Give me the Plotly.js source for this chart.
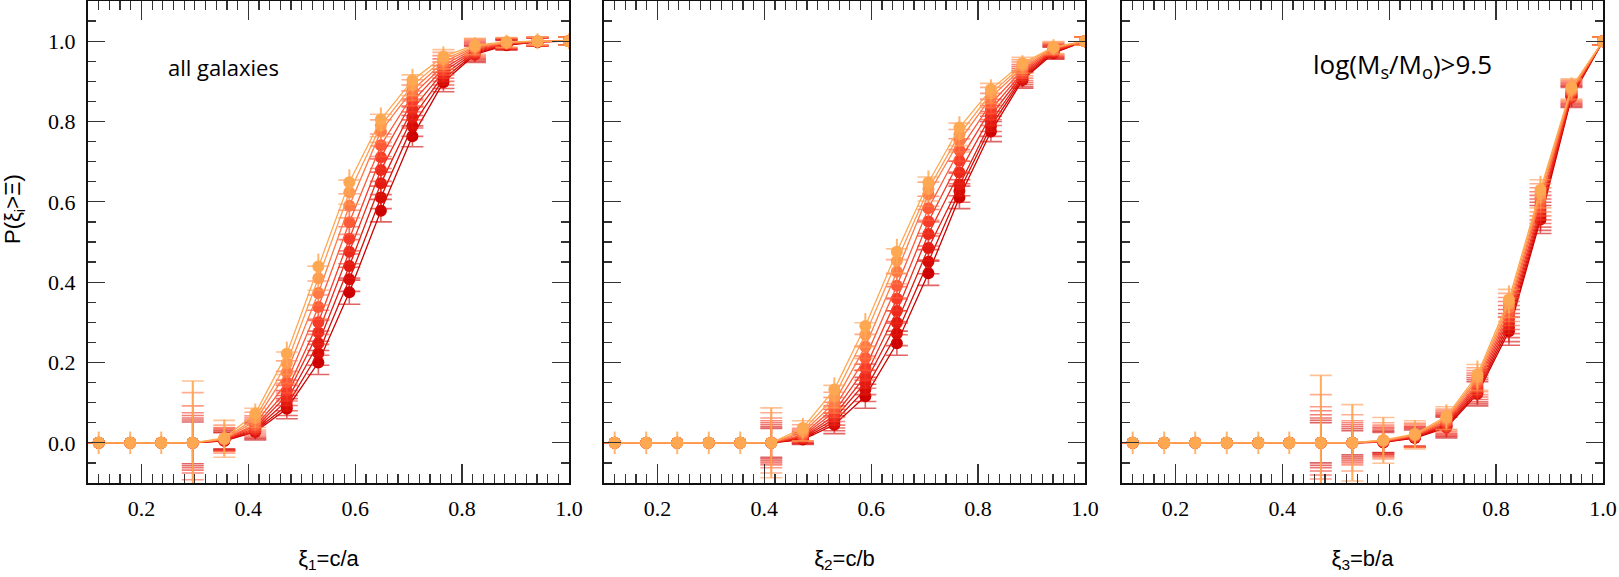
<!DOCTYPE html>
<html>
<head>
<meta charset="utf-8">
<script src="https://cdn.plot.ly/plotly-3.0.1.min.js"></script>
<style>
  html, body { margin: 0; padding: 0; background: #ffffff; }
  #chart { width: 1619px; height: 577px; }
</style>
</head>
<body>
<div id="chart"></div>
<script>
// ---- bin centres (shared by all panels) ----
const xBins = [0.12, 0.179, 0.237, 0.296, 0.355, 0.413, 0.472, 0.531, 0.589, 0.648, 0.707, 0.765, 0.824, 0.883, 0.941, 1.0];

// ---- series colours, lightest (s0) to darkest (s8) ----
const seriesColors = ['#ffa852', '#ff9a50', '#ff7a46', '#ff5a38', '#f63c29', '#ec2a1c', '#e21a11', '#d70c07', '#cc0000'];

// ---- panel 1: xi1 = c/a ----
const caValues = [
  [0, 0, 0, 0, 0.012, 0.073, 0.222, 0.439, 0.649, 0.805, 0.903, 0.962, 0.990, 0.998, 1.0, 1.0],
  [0, 0, 0, 0, 0.010, 0.062, 0.198, 0.410, 0.624, 0.790, 0.890, 0.955, 0.987, 0.997, 1.0, 1.0],
  [0, 0, 0, 0, 0.009, 0.054, 0.176, 0.373, 0.590, 0.776, 0.878, 0.948, 0.985, 0.996, 1.0, 1.0],
  [0, 0, 0, 0, 0.008, 0.047, 0.151, 0.338, 0.549, 0.741, 0.865, 0.940, 0.982, 0.995, 0.999, 1.0],
  [0, 0, 0, 0, 0.008, 0.042, 0.130, 0.300, 0.508, 0.711, 0.850, 0.932, 0.979, 0.994, 0.999, 1.0],
  [0, 0, 0, 0, 0.007, 0.037, 0.118, 0.275, 0.476, 0.679, 0.830, 0.924, 0.976, 0.993, 0.999, 1.0],
  [0, 0, 0, 0, 0.006, 0.033, 0.105, 0.248, 0.440, 0.646, 0.810, 0.915, 0.973, 0.992, 0.999, 1.0],
  [0, 0, 0, 0, 0.005, 0.030, 0.093, 0.223, 0.407, 0.611, 0.789, 0.906, 0.970, 0.991, 0.998, 1.0],
  [0, 0, 0, 0, 0.005, 0.027, 0.085, 0.200, 0.375, 0.578, 0.763, 0.898, 0.967, 0.990, 0.998, 1.0]
];
const caErrors = [
  [0.028, 0.028, 0.028, 0.154, 0.046, 0.025, 0.030, 0.032, 0.032, 0.030, 0.028, 0.025, 0.020, 0.018, 0.020, 0.020],
  [0, 0, 0, 0.154, 0.046, 0.024, 0.028, 0.030, 0.030, 0.028, 0.026, 0.024, 0.020, 0.012, 0.010, 0.010],
  [0, 0, 0, 0.125, 0.035, 0.022, 0.028, 0.030, 0.030, 0.028, 0.026, 0.024, 0.020, 0.012, 0.010, 0.010],
  [0, 0, 0, 0.092, 0.030, 0.020, 0.027, 0.030, 0.030, 0.028, 0.026, 0.024, 0.020, 0.012, 0.010, 0.010],
  [0, 0, 0, 0.075, 0.028, 0.020, 0.026, 0.030, 0.030, 0.028, 0.026, 0.024, 0.020, 0.012, 0.010, 0.010],
  [0, 0, 0, 0.068, 0.026, 0.020, 0.025, 0.030, 0.030, 0.028, 0.026, 0.024, 0.020, 0.012, 0.010, 0.010],
  [0, 0, 0, 0.062, 0.024, 0.020, 0.025, 0.030, 0.030, 0.028, 0.026, 0.024, 0.020, 0.012, 0.010, 0.010],
  [0, 0, 0, 0.057, 0.022, 0.020, 0.025, 0.030, 0.030, 0.028, 0.026, 0.024, 0.020, 0.012, 0.010, 0.010],
  [0, 0, 0, 0.052, 0.020, 0.020, 0.025, 0.030, 0.030, 0.028, 0.026, 0.024, 0.020, 0.012, 0.010, 0.010]
];

// ---- panel 2: xi2 = c/b ----
const cbValues = [
  [0, 0, 0, 0, 0, 0, 0.037, 0.133, 0.291, 0.476, 0.648, 0.785, 0.880, 0.945, 0.985, 1.0],
  [0, 0, 0, 0, 0, 0, 0.030, 0.115, 0.269, 0.453, 0.632, 0.768, 0.870, 0.940, 0.984, 1.0],
  [0, 0, 0, 0, 0, 0, 0.025, 0.100, 0.240, 0.426, 0.619, 0.752, 0.860, 0.934, 0.982, 1.0],
  [0, 0, 0, 0, 0, 0, 0.020, 0.088, 0.211, 0.391, 0.584, 0.729, 0.845, 0.928, 0.980, 1.0],
  [0, 0, 0, 0, 0, 0, 0.017, 0.077, 0.186, 0.359, 0.551, 0.702, 0.830, 0.922, 0.978, 1.0],
  [0, 0, 0, 0, 0, 0, 0.014, 0.068, 0.166, 0.328, 0.520, 0.673, 0.815, 0.917, 0.976, 1.0],
  [0, 0, 0, 0, 0, 0, 0.012, 0.060, 0.150, 0.299, 0.485, 0.643, 0.800, 0.912, 0.974, 1.0],
  [0, 0, 0, 0, 0, 0, 0.010, 0.052, 0.133, 0.272, 0.451, 0.627, 0.788, 0.907, 0.972, 1.0],
  [0, 0, 0, 0, 0, 0, 0.008, 0.045, 0.116, 0.248, 0.422, 0.611, 0.775, 0.903, 0.970, 1.0]
];
const cbErrors = [
  [0.028, 0.028, 0.028, 0.028, 0.028, 0.087, 0.025, 0.030, 0.032, 0.032, 0.030, 0.028, 0.025, 0.020, 0.020, 0.015],
  [0, 0, 0, 0, 0, 0.087, 0.025, 0.028, 0.030, 0.030, 0.030, 0.028, 0.025, 0.020, 0.015, 0.010],
  [0, 0, 0, 0, 0, 0.075, 0.020, 0.026, 0.030, 0.030, 0.030, 0.028, 0.025, 0.020, 0.015, 0.010],
  [0, 0, 0, 0, 0, 0.062, 0.016, 0.025, 0.030, 0.030, 0.030, 0.028, 0.025, 0.020, 0.015, 0.010],
  [0, 0, 0, 0, 0, 0.055, 0.015, 0.024, 0.030, 0.030, 0.030, 0.028, 0.025, 0.020, 0.015, 0.010],
  [0, 0, 0, 0, 0, 0.050, 0.014, 0.024, 0.030, 0.030, 0.030, 0.028, 0.025, 0.020, 0.015, 0.010],
  [0, 0, 0, 0, 0, 0.045, 0.013, 0.023, 0.030, 0.030, 0.030, 0.028, 0.025, 0.020, 0.015, 0.010],
  [0, 0, 0, 0, 0, 0.040, 0.012, 0.022, 0.030, 0.030, 0.030, 0.028, 0.025, 0.020, 0.015, 0.010],
  [0, 0, 0, 0, 0, 0.036, 0.012, 0.022, 0.030, 0.030, 0.030, 0.028, 0.025, 0.020, 0.015, 0.010]
];

// ---- panel 3: xi3 = b/a ----
const baValues = [
  [0, 0, 0, 0, 0, 0, 0, 0, 0.007, 0.022, 0.066, 0.170, 0.357, 0.630, 0.885, 1.0],
  [0, 0, 0, 0, 0, 0, 0, 0, 0.006, 0.020, 0.062, 0.163, 0.347, 0.620, 0.881, 1.0],
  [0, 0, 0, 0, 0, 0, 0, 0, 0.005, 0.019, 0.058, 0.157, 0.337, 0.610, 0.878, 1.0],
  [0, 0, 0, 0, 0, 0, 0, 0, 0.004, 0.018, 0.054, 0.150, 0.327, 0.600, 0.875, 1.0],
  [0, 0, 0, 0, 0, 0, 0, 0, 0.003, 0.016, 0.050, 0.144, 0.317, 0.590, 0.872, 1.0],
  [0, 0, 0, 0, 0, 0, 0, 0, 0.003, 0.015, 0.047, 0.138, 0.307, 0.581, 0.869, 1.0],
  [0, 0, 0, 0, 0, 0, 0, 0, 0.002, 0.014, 0.044, 0.132, 0.297, 0.572, 0.866, 1.0],
  [0, 0, 0, 0, 0, 0, 0, 0, 0.002, 0.013, 0.041, 0.127, 0.287, 0.564, 0.863, 1.0],
  [0, 0, 0, 0, 0, 0, 0, 0, 0.001, 0.012, 0.038, 0.122, 0.278, 0.556, 0.860, 1.0]
];
const baErrors = [
  [0.028, 0.028, 0.028, 0.028, 0.028, 0.028, 0.168, 0.095, 0.057, 0.035, 0.030, 0.035, 0.035, 0.035, 0.025, 0.015],
  [0, 0, 0, 0, 0, 0, 0.168, 0.095, 0.057, 0.035, 0.028, 0.032, 0.035, 0.035, 0.025, 0.010],
  [0, 0, 0, 0, 0, 0, 0.120, 0.070, 0.045, 0.030, 0.026, 0.030, 0.035, 0.035, 0.025, 0.010],
  [0, 0, 0, 0, 0, 0, 0.090, 0.055, 0.040, 0.028, 0.026, 0.030, 0.035, 0.035, 0.025, 0.010],
  [0, 0, 0, 0, 0, 0, 0.080, 0.050, 0.036, 0.026, 0.026, 0.030, 0.035, 0.035, 0.025, 0.010],
  [0, 0, 0, 0, 0, 0, 0.070, 0.045, 0.033, 0.025, 0.026, 0.030, 0.035, 0.035, 0.025, 0.010],
  [0, 0, 0, 0, 0, 0, 0.062, 0.040, 0.030, 0.024, 0.026, 0.030, 0.035, 0.035, 0.025, 0.010],
  [0, 0, 0, 0, 0, 0, 0.056, 0.035, 0.027, 0.022, 0.026, 0.030, 0.035, 0.035, 0.025, 0.010],
  [0, 0, 0, 0, 0, 0, 0.050, 0.030, 0.025, 0.020, 0.026, 0.030, 0.035, 0.035, 0.025, 0.010]
];

// ---- ticks and texts ----
const xLabelVals = [0.2, 0.4, 0.6, 0.8, 1.0];
const xLabelText = ['0.2', '0.4', '0.6', '0.8', '1.0'];
const xOddTickVals = [0.1, 0.3, 0.5, 0.7, 0.9];
const yLabelVals = [0.0, 0.2, 0.4, 0.6, 0.8, 1.0];
const yLabelText = ['0.0', '0.2', '0.4', '0.6', '0.8', '1.0'];
const yOddTickVals = [-0.1, 0.1, 0.3, 0.5, 0.7, 0.9, 1.1];

const xTitles = ['ξ<sub>1</sub>=c/a', 'ξ<sub>2</sub>=c/b', 'ξ<sub>3</sub>=b/a'];
const yTitle = 'P(ξ<sub>i</sub>&gt;Ξ)';
const panelLabels = ['all galaxies', '', 'log(M<sub>s</sub>/M<sub>o</sub>)&gt;9.5'];

// ---- build ----
function hexToRgba(hex, a) {
  const n = parseInt(hex.slice(1), 16);
  return 'rgba(' + ((n >> 16) & 255) + ',' + ((n >> 8) & 255) + ',' + (n & 255) + ',' + a + ')';
}

const panels = [
  { vals: caValues, errs: caErrors },
  { vals: cbValues, errs: cbErrors },
  { vals: baValues, errs: baErrors }
];

const traces = [];
panels.forEach((p, pi) => {
  const suffix = pi === 0 ? '' : String(pi + 1);
  for (let s = seriesColors.length - 1; s >= 0; s--) {
    traces.push({
      type: 'scatter',
      mode: 'lines+markers',
      x: xBins,
      y: p.vals[s],
      xaxis: 'x' + suffix,
      yaxis: 'y' + suffix,
      showlegend: false,
      hoverinfo: 'x+y',
      line: { color: seriesColors[s], width: 1.3 },
      marker: { color: seriesColors[s], size: 12, line: { width: 0 } },
      error_y: {
        type: 'data',
        array: p.errs[s],
        visible: true,
        color: s === 0 ? hexToRgba(seriesColors[s], 0.85) : hexToRgba(seriesColors[s], 0.6),
        thickness: s === 0 ? 2 : 1.6,
        width: s === 0 ? 0 : 11
      }
    });
  }
});

const W = 1619, H = 577;
const panelPx = [[88, 569], [604, 1085], [1122, 1603]];
const plotTop = 1, plotBottom = 483;

const tickFont = { family: '"Liberation Serif", "Times New Roman", serif', size: 22, color: '#000' };
const titleFont = { family: '"Liberation Sans", Arial, sans-serif', size: 22, color: '#000' };
const tickStyle = { ticks: 'inside', tickwidth: 1.3, tickcolor: '#333', showgrid: false, zeroline: false };

const layout = {
  width: W,
  height: H,
  margin: { l: 0, r: 0, t: 0, b: 0 },
  paper_bgcolor: '#ffffff',
  plot_bgcolor: '#ffffff',
  showlegend: false,
  annotations: [{
    xref: 'paper', yref: 'paper',
    x: 14 / W, y: (H - 209) / H,
    xanchor: 'center', yanchor: 'middle',
    textangle: -90,
    text: yTitle,
    showarrow: false,
    font: titleFont
  }]
};

panelPx.forEach((px, pi) => {
  const suffix = pi === 0 ? '' : String(pi + 1);
  const oSuffix = String(pi + 4);
  const xDomain = [px[0] / W, px[1] / W];
  const yDomain = [(H - plotBottom) / H, (H - plotTop) / H];
  layout['xaxis' + suffix] = Object.assign({}, tickStyle, {
    domain: xDomain,
    anchor: 'y' + suffix,
    range: [0.1, 1.0],
    showline: true,
    linecolor: '#111',
    linewidth: 2,
    mirror: 'allticks',
    ticklen: 19,
    tickmode: 'array',
    tickvals: xLabelVals,
    ticktext: xLabelText,
    tickfont: tickFont,
    ticklabelstandoff: 5,
    minor: { tickmode: 'linear', tick0: 0, dtick: 0.02, ticks: 'inside', ticklen: 9, tickwidth: 1.2, tickcolor: '#333', showgrid: false },
    title: { text: xTitles[pi], font: titleFont, standoff: 30 }
  });
  layout['yaxis' + suffix] = Object.assign({}, tickStyle, {
    domain: yDomain,
    anchor: 'x' + suffix,
    range: [-0.1, 1.1],
    showline: true,
    linecolor: '#111',
    linewidth: 2,
    mirror: 'allticks',
    ticklen: 17,
    tickmode: 'array',
    tickvals: yLabelVals,
    ticktext: yLabelText,
    tickfont: tickFont,
    showticklabels: pi === 0,
    ticklabelstandoff: 6,
    minor: { tickmode: 'linear', tick0: 0, dtick: 0.05, ticks: 'inside', ticklen: 8, tickwidth: 1.2, tickcolor: '#333', showgrid: false }
  });
  // overlay axes carrying the unlabelled long ticks
  layout['xaxis' + oSuffix] = Object.assign({}, tickStyle, {
    overlaying: 'x' + suffix,
    anchor: 'y' + suffix,
    range: [0.1, 1.0],
    showline: false,
    mirror: 'allticks',
    ticklen: 19,
    tickmode: 'array',
    tickvals: xOddTickVals,
    showticklabels: false
  });
  layout['yaxis' + oSuffix] = Object.assign({}, tickStyle, {
    overlaying: 'y' + suffix,
    anchor: 'x' + suffix,
    range: [-0.1, 1.1],
    showline: false,
    mirror: 'allticks',
    ticklen: 17,
    tickmode: 'array',
    tickvals: yOddTickVals,
    showticklabels: false
  });
  if (panelLabels[pi]) {
    layout.annotations.push({
      xref: 'x' + suffix, yref: 'y' + suffix,
      x: pi === 0 ? 0.353 : 0.625,
      y: pi === 0 ? 0.935 : 0.94,
      text: panelLabels[pi],
      showarrow: false,
      font: { family: '"Open Sans", "Liberation Sans", sans-serif', size: pi === 0 ? 22 : 26, color: '#000' }
    });
  }
});

Plotly.newPlot('chart', traces, layout, { displayModeBar: false, staticPlot: true });
</script>
</body>
</html>
